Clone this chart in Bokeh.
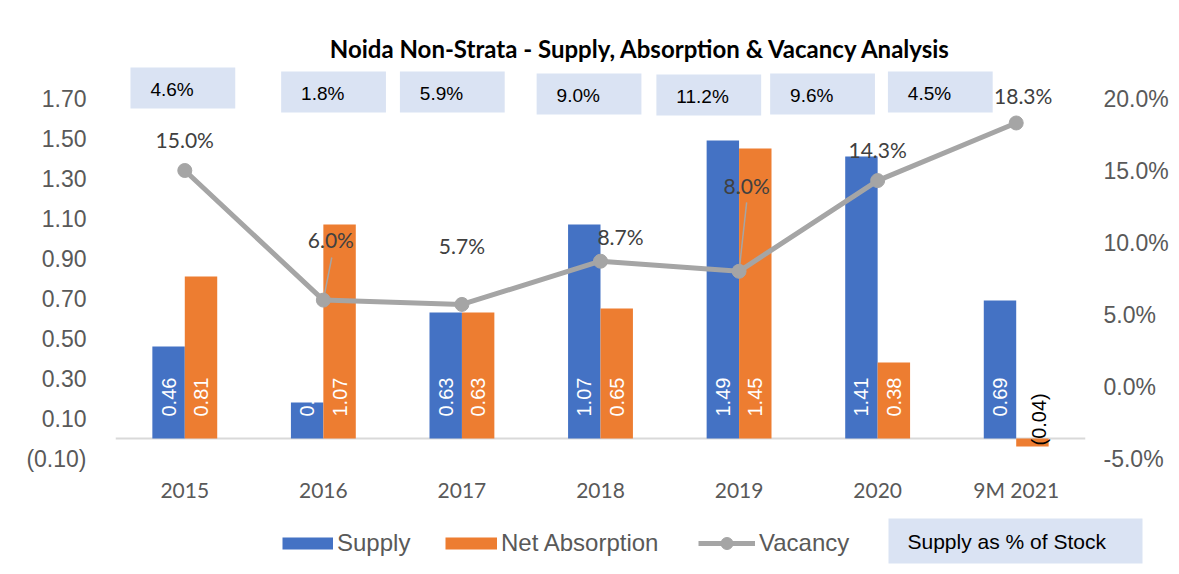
import math
from bokeh.plotting import figure
from bokeh.layouts import column
from bokeh.models import (Range1d, LinearAxis, FixedTicker, NumeralTickFormatter, Span,
                          ColumnDataSource, LabelSet, Label, BoxAnnotation, Legend, LegendItem)
from bokeh.core.properties import value
from bokeh.embed import file_html
from bokeh.resources import INLINE

# ---------------- data ----------------
categories = ["2015", "2016", "2017", "2018", "2019", "2020", "9M 2021"]
supply = [0.46, 0.18, 0.63, 1.07, 1.49, 1.41, 0.69]
net_absorption = [0.81, 1.07, 0.63, 0.65, 1.45, 0.38, -0.04]
vacancy = [0.150, 0.060, 0.057, 0.087, 0.080, 0.143, 0.183]
supply_pct_of_stock = [4.6, 1.8, 5.9, 9.0, 11.2, 9.6, 4.5]
left_ticks = [-0.1, 0.1, 0.3, 0.5, 0.7, 0.9, 1.1, 1.3, 1.5, 1.7]
right_ticks = [-0.05, 0.0, 0.05, 0.10, 0.15, 0.20]

# ---------------- layout (pixels) ----------------
W, H_MAIN, H_STRIP = 1171, 515, 51
FL, FR, FT, FB = 115, 84, 0, 57
FW, FH = W - FL - FR, H_MAIN - FT - FB
N = len(categories)
PXX = FW / N                 # px per x unit
PXY = 200.0                  # px per left-y unit
PXV = 1440.0                 # px per vacancy unit
Y_TOP = -0.1 + FH / PXY
V_TOP = -0.05 + FH / PXV
BAR_W_PX = 32.5

def X(px):   # picture px -> data x
    return (px - FL) / PXX

def Y(py):   # picture px -> left data y
    return -0.1 + (FT + FH - py) / PXY

BLUE, ORANGE, GREY = "#4472C4", "#ED7D31", "#A5A5A5"
TXT = "#595959"
BOXFILL = "#DAE3F3"

p = figure(width=W, height=H_MAIN, output_backend="svg", toolbar_location=None,
           x_range=Range1d(0, N), y_range=Range1d(-0.1, Y_TOP),
           min_border_left=FL, min_border_right=FR, min_border_top=FT, min_border_bottom=FB,
           background_fill_color="white", border_fill_color="white")
p.frame_align = False
p.outline_line_color = None
p.grid.visible = False
p.extra_y_ranges = {"vac": Range1d(-0.05, V_TOP)}

# axes
xa = p.xaxis[0]
xa.ticker = FixedTicker(ticks=[i + 0.5 for i in range(N)])
xa.major_label_overrides = {i + 0.5: c for i, c in enumerate(categories)}
ya = p.yaxis[0]
ya.ticker = FixedTicker(ticks=left_ticks)
ya.formatter = NumeralTickFormatter(format="(0.00)")
ra = LinearAxis(y_range_name="vac", ticker=FixedTicker(ticks=right_ticks),
                formatter=NumeralTickFormatter(format="0.0%"))
p.add_layout(ra, "right")
for ax in (xa, ya, ra):
    ax.axis_line_color = None
    ax.major_tick_line_color = None
    ax.minor_tick_line_color = None
    ax.major_tick_out = 0
    ax.major_tick_in = 0
    ax.major_label_text_color = TXT
xa.major_label_text_font = "Lato"
xa.major_label_text_font_size = "21px"
xa.major_label_standoff = 18
for ax in (ya, ra):
    ax.major_label_text_font = "Liberation Sans"
    ax.major_label_text_font_size = "23px"
ya.major_label_standoff = 29
ra.major_label_standoff = 18

# zero line
p.add_layout(Span(location=0, dimension="width", line_color="#D9D9D9", line_width=2, level="underlay"))

# bars
xs = [i + 0.5 for i in range(N)]
half = BAR_W_PX / 2 / PXX
bw = BAR_W_PX / PXX
src_s = ColumnDataSource(dict(x=[x - half for x in xs], top=supply))
src_a = ColumnDataSource(dict(x=[x + half for x in xs], top=net_absorption))
p.vbar(x="x", top="top", bottom=0, width=bw, source=src_s, fill_color=BLUE, line_color=None)
p.vbar(x="x", top="top", bottom=0, width=bw, source=src_a, fill_color=ORANGE, line_color=None)

# bar value labels (inside base, rotated)
def fmt(v):
    return f"{v:.2f}" if v >= 0 else f"({abs(v):.2f})"

pos_x, pos_t, neg_x, neg_t = [], [], [], []
for x, v in list(zip([x - half for x in xs], supply)) + list(zip([x + half for x in xs], net_absorption)):
    if v >= 0:
        pos_x.append(x); pos_t.append(fmt(v))
    else:
        neg_x.append(x); neg_t.append(fmt(v))
p.add_layout(LabelSet(source=ColumnDataSource(dict(x=pos_x, y=[0] * len(pos_x), t=pos_t)),
                      x="x", y="y", text="t", angle=math.pi / 2, y_offset=22,
                      text_align="left", text_baseline="middle", text_color="white",
                      text_font=value("Liberation Sans"), text_font_size="20px"))
p.add_layout(LabelSet(source=ColumnDataSource(dict(x=neg_x, y=[0] * len(neg_x), t=neg_t)),
                      x="x", y="y", text="t", angle=math.pi / 2, y_offset=-7, x_offset=7,
                      text_align="left", text_baseline="middle", text_color="black",
                      text_font=value("Liberation Sans"), text_font_size="20px"))

# vacancy label placement (px, relative to points) and leader lines
vac_lbl_dx = [0, 7.5, 0, 20, 7.6, 0, 7]
vac_lbl_dy = [31.5, 61, 59, 25, 86, 31.5, 27]
leader_dx = [0, 8.4, 0, 0, 7.6, 0, 0]
leader_dy = [0, 42.6, 0, 0, 69, 0, 0]
lx0, ly0, lx1, ly1 = [], [], [], []
for x, v, dx, dy in zip(xs, vacancy, leader_dx, leader_dy):
    if dy:
        lx0.append(x); ly0.append(v); lx1.append(x + dx / PXX); ly1.append(v + dy / PXV)
p.segment(x0=lx0, y0=ly0, x1=lx1, y1=ly1, y_range_name="vac", line_color=GREY, line_width=1.5)

# vacancy line
src_v = ColumnDataSource(dict(x=xs, v=vacancy))
p.line("x", "v", source=src_v, y_range_name="vac", line_color=GREY, line_width=5)
p.scatter("x", "v", source=src_v, y_range_name="vac", size=14, fill_color=GREY, line_color=GREY)

p.add_layout(LabelSet(source=ColumnDataSource(dict(x=xs, v=vacancy, t=[f"{v*100:.1f}%" for v in vacancy],
                                                   dx=vac_lbl_dx, dy=vac_lbl_dy)),
                      x="x", y="v", text="t", x_offset="dx", y_offset="dy", y_range_name="vac",
                      text_align="center", text_baseline="middle", text_color="#404040",
                      text_font=value("Lato"), text_font_size="21px"))

# supply as % of stock boxes
box_left_px = [130, 281, 400, 537, 657, 771, 889]
box_top_px = [67, 71, 71, 73, 74, 73, 71]
BOX_W, BOX_H, BOX_PAD = 105, 41, 20
for lpx, tpx, val in zip(box_left_px, box_top_px, supply_pct_of_stock):
    p.add_layout(BoxAnnotation(left=X(lpx), right=X(lpx + BOX_W), top=Y(tpx), bottom=Y(tpx + BOX_H),
                               fill_color=BOXFILL, fill_alpha=1, line_color=None, level="overlay"))
    p.add_layout(Label(x=X(lpx + BOX_PAD), y=Y(tpx + BOX_H / 2 + 1.5), text=f"{val:.1f}%",
                       text_align="left", text_baseline="middle", text_color="black",
                       text_font="Liberation Sans", text_font_size="19px", level="overlay"))

# title
p.add_layout(Label(x=X(641.5), y=Y(47.5), text="Noida Non-Strata - Supply, Absorption & Vacancy Analysis",
                   text_align="center", text_baseline="middle", text_color="black",
                   text_font="Lato", text_font_style="bold", text_font_size="24px"))

# ---------------- legend strip ----------------
Y0 = H_MAIN
s = figure(width=W, height=H_STRIP, output_backend="svg", toolbar_location=None,
           x_range=Range1d(0, W), y_range=Range1d(Y0 + H_STRIP, Y0),
           x_axis_type=None, y_axis_type=None, min_border=0,
           background_fill_color="white", border_fill_color="white")
s.frame_align = False
s.outline_line_color = None
s.grid.visible = False
nan = float("nan")
def dummy():
    return ColumnDataSource(dict(x=[nan], y=[nan]))
d_sup = s.line("x", "y", source=dummy(), line_color=BLUE, line_width=12)
d_abs = s.line("x", "y", source=dummy(), line_color=ORANGE, line_width=12)
d_vl = s.line("x", "y", source=dummy(), line_color=GREY, line_width=5)
d_vm = s.scatter("x", "y", source=dummy(), fill_color=GREY, line_color=GREY)

legend_specs = [("Supply", [d_sup], 282, 51), ("Net Absorption", [d_abs], 445, 52),
                ("Vacancy", [d_vl, d_vm], 698, 57)]
for label, rends, gx, gw in legend_specs:
    s.add_layout(Legend(items=[LegendItem(label=label, renderers=rends)],
                        location=(gx, 8), orientation="horizontal", glyph_width=gw, glyph_height=30,
                        label_standoff=4, padding=0, margin=0, border_line_color=None,
                        background_fill_alpha=0, label_text_font="Liberation Sans",
                        label_text_font_size="24px", label_text_color=TXT), "center")

s.add_layout(BoxAnnotation(left=888, right=1142, top=518, bottom=563,
                           fill_color=BOXFILL, fill_alpha=1, line_color=None))
s.add_layout(Label(x=907, y=541, text="Supply as % of Stock", text_align="left",
                   text_baseline="middle", text_color="black", text_font="Liberation Sans",
                   text_font_size="21px"))

layout = column(p, s, spacing=0)
open("out.html", "w").write(file_html(layout, INLINE))
